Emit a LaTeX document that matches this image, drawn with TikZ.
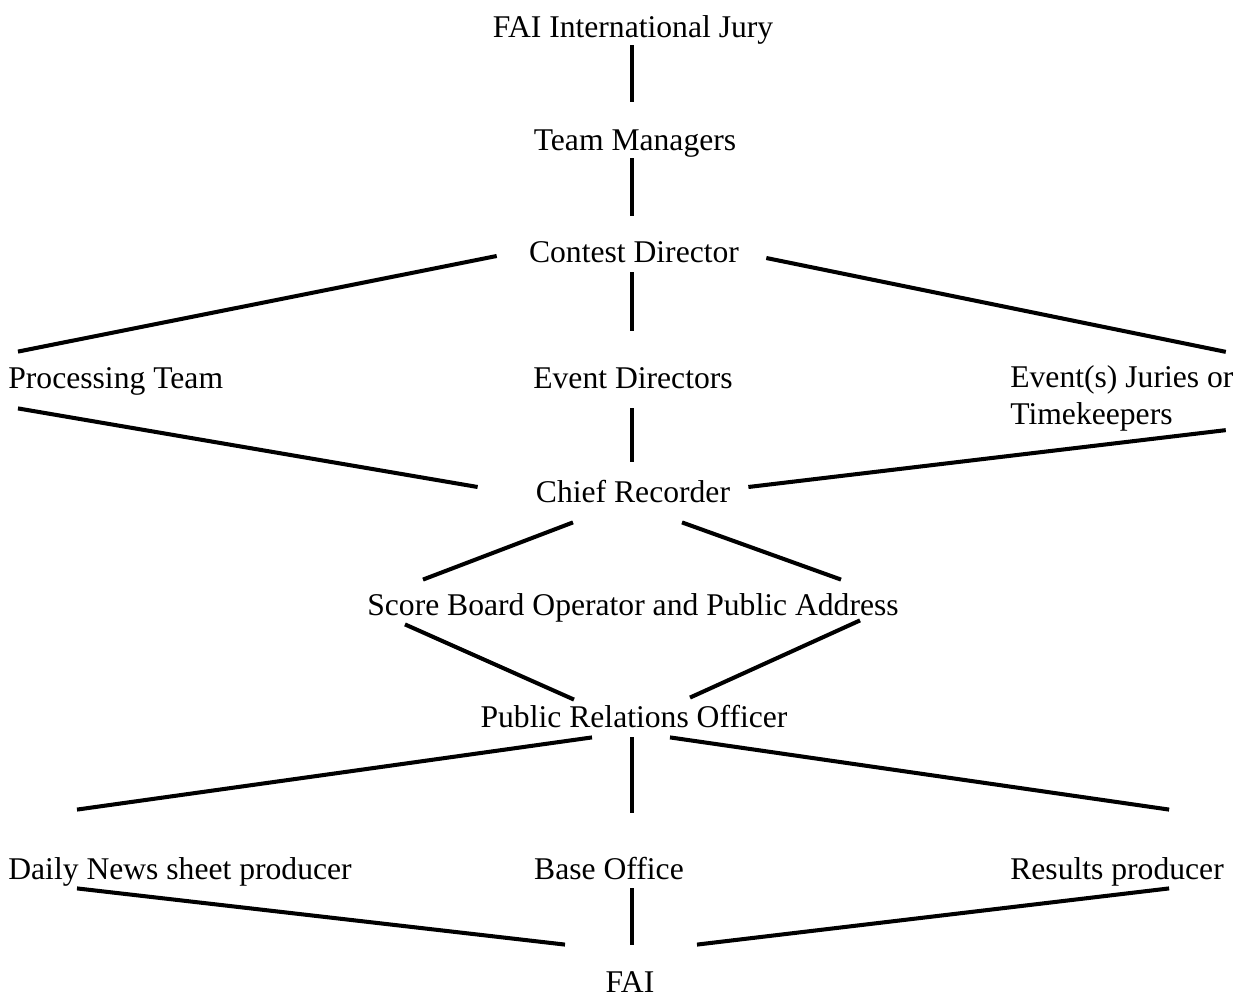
\documentclass[tikz,border=0pt]{standalone}
\usepackage{fontspec}
\setmainfont{Liberation Serif}
\usepackage{tikz}
\tikzset{lbl/.style={inner sep=0pt, font=\fontsize{18}{21}\selectfont, text height=13.7pt, text depth=2.3pt}}
\tikzset{lbl2/.style={inner sep=0pt, font=\fontsize{18}{21}\selectfont, align=left}}
\tikzset{link/.style={line width=2.3pt}}

\begin{document}
\begin{tikzpicture}[x=0.02cm, y=-0.02cm]
\useasboundingbox (0,0) rectangle (1242,997);

\node[lbl] (jury) at (633,27) {FAI International Jury};
\node[lbl] (tm) at (635,140) {Team Managers};
\node[lbl] (cd) at (634,252) {Contest Director};
\node[lbl, anchor=west] (proc) at (8,378) {Processing Team};
\node[lbl] (ed) at (633,378) {Event Directors};
\node[lbl2, anchor=west] (jur) at (1010,398) {Event(s) Juries or\\Timekeepers};
\node[lbl] (cr) at (633,492) {Chief Recorder};
\node[lbl] (sb) at (633,605) {Score Board Operator and Public Address};
\node[lbl] (pr) at (634,717) {Public Relations Officer};
\node[lbl, anchor=west] (dn) at (8,869) {Daily News sheet producer};
\node[lbl] (base) at (609,869) {Base Office};
\node[lbl, anchor=west] (res) at (1010,869) {Results producer};
\node[lbl] (fai) at (630,982) {FAI};

\draw[link] ([shift={(-1,4)}]jury.south) -- ([shift={(-3,-24)}]tm.north);
\draw[link] ([shift={(-3,4)}]tm.south) -- ([shift={(-2,-22)}]cd.north);
\draw[link] ([shift={(-32,4)}]cd.west) -- ([shift={(10,-12)}]proc.north west);
\draw[link] ([shift={(-2,6)}]cd.south) -- ([shift={(-1,-33)}]ed.north);
\draw[link] ([shift={(27,6)}]cd.east) -- ([shift={(-8,-13)}]jur.north east);

\draw[link] ([shift={(10,16)}]proc.south west) -- ([shift={(-58,-5)}]cr.west);
\draw[link] ([shift={(-1,16)}]ed.south) -- ([shift={(-1,-16)}]cr.north);
\draw[link] ([shift={(-8,-1)}]jur.south east) -- ([shift={(18,-5)}]cr.east);

\draw[link] ([shift={(-60,16)}]cr.south) -- ([shift={(56,-11)}]sb.north west);
\draw[link] ([shift={(49,16)}]cr.south) -- ([shift={(-58,-11)}]sb.north east);
\draw[link] ([shift={(38,5)}]sb.south west) -- ([shift={(-60,-3)}]pr.north);
\draw[link] ([shift={(-39,1)}]sb.south east) -- ([shift={(56,-5)}]pr.north);

\draw[link] ([shift={(-42,6)}]pr.south) -- ([shift={(69,-45)}]dn.north west);
\draw[link] ([shift={(-2,6)}]pr.south) -- ([shift={(23,-42)}]base.north);
\draw[link] ([shift={(36,6)}]pr.south) -- ([shift={(-55,-45)}]res.north east);

\draw[link] ([shift={(69,5)}]dn.south west) -- ([shift={(-65,-23)}]fai.north);
\draw[link] ([shift={(23,5)}]base.south) -- ([shift={(2,-23)}]fai.north);
\draw[link] ([shift={(-55,5)}]res.south east) -- ([shift={(67,-23)}]fai.north);

\end{tikzpicture}
\end{document}
